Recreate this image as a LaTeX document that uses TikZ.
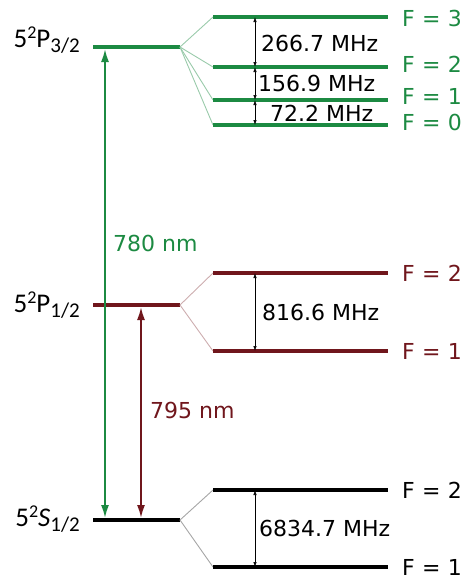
\documentclass[tikz,border=0pt]{standalone}
\usepackage{fontspec}
\setmainfont{DejaVu Sans}
\newfontfamily\lblfont{Carlito}
\usetikzlibrary{arrows.meta,positioning}
\definecolor{rbgreen}{RGB}{28,138,66}
\definecolor{rbred}{RGB}{112,22,28}
\newcommand{\termlab}[2]{{\lblfont\fontsize{27}{29}\selectfont 5\raisebox{9pt}{\fontsize{18}{18}\selectfont 2}#1\raisebox{-5pt}{\fontsize{21}{21}\selectfont #2}}}

\begin{document}
\begin{tikzpicture}[x=1pt,y=-1pt,every node/.style={font=\fontsize{22}{24}\selectfont,inner sep=0pt}]
  \tikzset{level/.style={line width=3.5pt},
    fan/.style={line width=0.9pt},
    hfs/.style={{Latex[length=5pt,width=3.5pt]}-{Latex[length=5pt,width=3.5pt]},line width=0.7pt},
    optic/.style={{Latex[length=13pt,width=8pt]}-{Latex[length=13pt,width=8pt]},line width=1.8pt}}
  \useasboundingbox (0,0) rectangle (476,579);
  % fine structure levels
  \coordinate (p3l) at (93,47);  \coordinate (p3r) at (180,47);
  \coordinate (p1l) at (93,305); \coordinate (p1r) at (180,305);
  \coordinate (s1l) at (93,520); \coordinate (s1r) at (180,520);
  \draw[level,rbgreen] (p3l) -- (p3r);
  \draw[level,rbred] (p1l) -- (p1r);
  \draw[level,black] (s1l) -- (s1r);
  \node[anchor=base east] (p3lab) at (80,47) {\termlab{P}{3/2}};
  \node[anchor=base east] (p1lab) at (80,312) {\termlab{P}{1/2}};
  \node[anchor=base east] (s1lab) at (80,526) {\termlab{\textit{S}}{1/2}};
  % hyperfine levels
  \foreach \f/\y/\ly in {3/17/18,2/67/64,1/100/96,0/125/122}{
    \coordinate (p3f\f l) at (213,\y); \coordinate (p3f\f r) at (388,\y); \coordinate (p3f\f a) at (255,\y);
    \draw[fan,rbgreen!45] (p3r) -- (p3f\f l);
    \draw[level,rbgreen] (p3f\f l) -- (p3f\f r);
    \node[anchor=west,text=rbgreen] (p3f\f lab) at (402,\ly) {F\,\,=\,\,\f};
  }
  \foreach \f/\y in {2/273,1/351}{
    \coordinate (p1f\f l) at (213,\y); \coordinate (p1f\f r) at (388,\y); \coordinate (p1f\f a) at (255,\y);
    \draw[fan,rbred!35] (p1r) -- (p1f\f l);
    \draw[level,rbred] (p1f\f l) -- (p1f\f r);
    \node[anchor=west,text=rbred] (p1f\f lab) at (402,\y) {F\,\,=\,\,\f};
  }
  \foreach \f/\y in {2/490,1/567}{
    \coordinate (s1f\f l) at (213,\y); \coordinate (s1f\f r) at (388,\y); \coordinate (s1f\f a) at (255,\y);
    \draw[fan,black!35] (s1r) -- (s1f\f l);
    \draw[level,black] (s1f\f l) -- (s1f\f r);
    \node[anchor=west] (s1f\f lab) at (402,\y) {F\,\,=\,\,\f};
  }
  % splittings
  \draw[hfs] (p3f3a) -- (p3f2a);
  \draw[hfs] (p3f2a) -- (p3f1a);
  \draw[hfs] (p3f1a) -- (p3f0a);
  \draw[hfs] (p1f2a) -- (p1f1a);
  \draw[hfs] (s1f2a) -- (s1f1a);
  \node[anchor=west] (d32) at (261,43) {266.7 MHz};
  \node[anchor=west] (d21) at (258,83) {156.9 MHz};
  \node[anchor=west] (d10) at (270,113) {72.2 MHz};
  \node[anchor=west] (dp1) at (262,312) {816.6 MHz};
  \node[anchor=west] (ds1) at (259,528) {6834.7 MHz};
  % optical transitions
  \coordinate (d2top) at (105,49); \coordinate (d2bot) at (105,518);
  \coordinate (d1top) at (141,307); \coordinate (d1bot) at (141,518);
  \draw[optic,rbgreen] (d2bot) -- (d2top);
  \draw[optic,rbred] (d1bot) -- (d1top);
  \node[anchor=west,text=rbgreen] (d2lab) at (113,243) {780 nm};
  \node[anchor=west,text=rbred] (d1lab) at (150,410) {795 nm};
\end{tikzpicture}
\end{document}
